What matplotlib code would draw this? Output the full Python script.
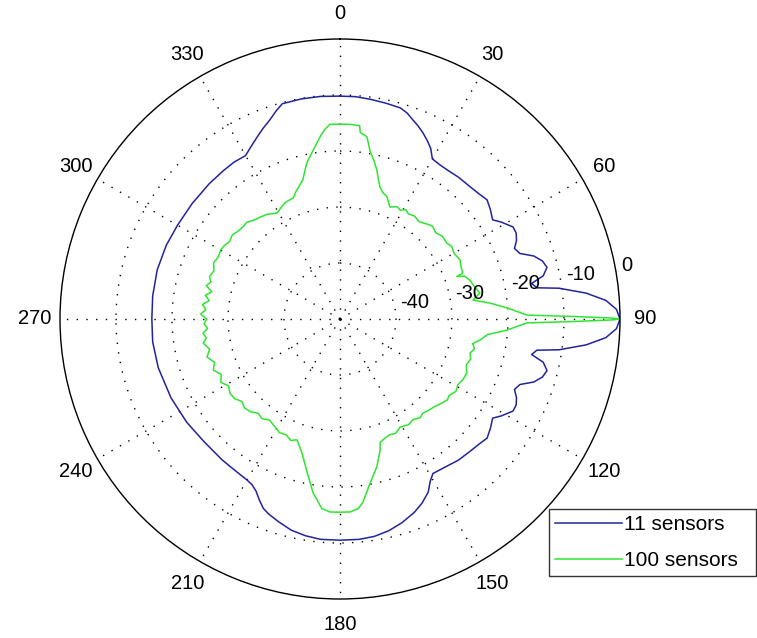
import numpy as np
import matplotlib
matplotlib.use("Agg")
import matplotlib.pyplot as plt
import matplotlib.transforms as mtransforms

plt.rcParams['font.family'] = ['Liberation Sans', 'DejaVu Sans']

# ---- data (angle in degrees, clockwise from top; level in dB) ----
blue_deg = [0, 4, 8, 12, 16, 18, 20, 22, 24, 26, 28, 30, 33, 36, 40, 44, 48, 51, 54, 57, 59, 62, 64, 66, 68, 70,
            72, 74, 76, 78, 79.5, 81, 82, 84, 86, 88, 90,
            92, 94, 96, 98, 99, 100.5, 102, 104, 106, 108, 110, 112, 114, 116, 118, 121, 123, 126, 129, 132, 136,
            140, 145, 149, 151, 153, 156, 159, 163, 167, 171, 175, 180,
            185, 189, 193, 197, 200, 202, 204, 206, 208, 210, 215, 220, 228, 236, 245, 255, 263, 270, 277, 285,
            293, 300, 308, 316, 322, 326, 330, 332, 335.5, 338, 340.6, 343, 345, 350, 355, 360]
blue_db = [-10.2, -10.2, -10.4, -10.6, -10.8, -11.3, -12.1, -12.8, -13.6, -14.5, -15.5, -17.0, -17.2, -17.2, -17.0,
           -16.9, -16.6, -16.2, -16.8, -17.5, -16.4, -15.0, -15.0, -15.5, -16.4, -15.8,
           -13.6, -12.4, -11.9, -12.9, -15.2, -14.4, -10.5, -5.8, -2.4, -0.6, 0.0,
           -0.6, -2.4, -5.8, -10.5, -14.4, -15.2, -12.9, -11.9, -12.4, -13.6, -15.8, -16.4, -15.5, -15.0, -15.0,
           -16.4, -17.5, -16.8, -16.2, -16.6, -16.9,
           -17.1, -17.6, -17.8, -16.8, -15.3, -14.0, -13.0, -12.0, -11.2, -10.7, -10.5, -10.5,
           -10.5, -10.8, -11.3, -12.2, -12.9, -13.5, -14.6, -15.8, -16.5, -16.8, -17.1, -17.2, -17.3, -17.0,
           -16.7, -16.4, -16.3, -16.4, -16.3, -16.2,
           -16.3, -16.5, -16.5, -16.4, -16.3, -16.2, -16.3, -15.6, -14.3, -13.3, -12.3, -11.1, -10.2, -10.1,
           -10.1, -10.2]

green_deg = [0, 3, 5.8, 6.2, 8.4, 10.2, 12, 13.9, 15, 16.9, 18.8, 21, 24, 27, 29, 31, 33, 36, 39, 41, 43, 45, 48,
             51, 54.6, 57, 60, 63.8, 66, 69.5, 70, 71, 73.3, 76, 79.5, 81.9, 84, 86.2, 88, 88.8, 89.4, 89.8, 90,
             90.2, 90.6, 91.2, 92, 93.8, 96, 98.5, 100.5, 102.5, 104.7, 107, 110, 113, 116, 119, 122, 125, 127,
             130, 133, 136, 138.6, 141, 144, 147, 151, 154, 157, 160.4, 162, 163, 166, 169.6, 172.9, 174.5, 177,
             180, 183, 185.5, 188.8, 192, 195.8, 198, 199.6, 202, 205, 208, 211, 215, 218, 221, 224, 227, 230,
             233, 236, 239, 242, 245, 248, 251, 254, 257, 260, 262, 264, 266, 268, 270, 272, 274, 276, 278, 280,
             282, 284, 286, 288, 291, 294, 297, 300, 302, 305, 308, 311, 314, 316, 319, 322, 325, 327, 329.3,
             332, 335, 339, 341, 345, 348, 351.6, 354.2, 355.5, 357, 360]
green_db = [-15.2, -15.2, -15.3, -16.5, -17.1, -19.6, -21.0, -22.6, -23.8, -25.4, -26.2, -26.6, -28.1, -27.5,
            -27.8, -27.2, -27.6, -27.3, -27.6, -27.3, -26.9, -26.6, -27.0,
            -26.5, -26.6, -26.2, -26.5, -26.1, -26.4, -26.6, -27.8, -26.5, -25.8, -25.4, -24.6, -26.0, -23.0,
            -20.1, -17.8, -16.6, -8.0, -1.5, 0.0,
            -1.5, -8.0, -16.6, -17.8, -20.1, -23.5, -24.7, -25.9, -25.4, -26.0, -25.6, -26.0, -25.4, -25.5,
            -25.9, -25.6, -26.2, -26.0,
            -26.5, -27.0, -27.3, -27.6, -27.3, -27.8, -27.5, -27.9, -27.3, -27.5, -27.1, -26.8, -25.5, -22.8,
            -20.2, -17.0, -16.0, -15.5,
            -15.5, -15.5, -16.0, -18.6, -21.9, -25.1, -26.3, -27.1, -26.6, -27.2, -27.0, -27.5, -28.0, -27.4,
            -27.7, -27.0, -26.7, -27.1,
            -26.4, -26.3, -26.8, -25.9, -26.6, -25.6, -26.3, -25.3, -26.1, -25.2, -25.9, -25.4, -26.3, -25.7,
            -26.2, -25.1, -26.0, -25.3, -26.4, -25.6,
            -26.6, -25.4, -26.0, -25.5, -25.9, -25.3, -25.6, -25.4, -25.5, -25.9, -25.6, -26.0, -26.1, -26.0,
            -26.6, -26.9, -27.2, -27.6, -28.0,
            -27.5, -27.0, -26.8, -25.9, -24.3, -21.5, -19.0, -16.9, -16.0, -15.2, -15.2]

series_labels = ['11 sensors', '100 sensors']
ring_values = [-40, -30, -20, -10, 0]
ring_labels = ['-40', '-30', '-20', '-10', '0']
angle_ticks = [0, 30, 60, 90, 120, 150, 180, 210, 240, 270, 300, 330]
angle_labels = ['0', '30', '60', '90', '120', '150', '180', '210', '240', '270', '300', '330']

# ---- figure ----
W, H = 757, 638
fig = plt.figure(figsize=(W / 100, H / 100), dpi=100)
fig.patch.set_facecolor('white')
ax = fig.add_axes([60 / W, (H - 599) / H, 560 / W, 560 / H], projection='polar')
ax.set_theta_zero_location('N')
ax.set_theta_direction(-1)
ax.set_rlim(-50, 0)

blue_c = '#23239c'
green_c = '#2fe52f'
l1, = ax.plot(np.deg2rad(blue_deg), blue_db, color=blue_c, lw=1.1, label=series_labels[0])
l2, = ax.plot(np.deg2rad(green_deg), green_db, color=green_c, lw=1.1, label=series_labels[1])

# grid
ax.set_xticks(np.deg2rad(angle_ticks))
ax.set_xticklabels([])
ax.set_yticks(ring_values[:-1])
ax.set_yticklabels([])
ax.grid(True, color='black', linestyle=(0, (1, 6)), linewidth=1.0)
ax.spines['polar'].set_color('black')
ax.spines['polar'].set_linewidth(1.0)
ax.tick_params(length=0)

# angle labels at ~1.09 * rmax
for a, lab in zip(angle_ticks, angle_labels):
    ax.text(np.deg2rad(a), 4.5, lab, ha='center', va='center', fontsize=14.5, clip_on=False)

# ring labels
off = mtransforms.offset_copy(ax.transData, fig=fig, x=5, y=-2, units='dots')
for v, lab in zip(ring_values, ring_labels):
    ax.text(np.deg2rad(80.5), v, lab, ha='left', va='bottom', fontsize=14.5, transform=off, clip_on=False)

leg = fig.legend(handles=[l1, l2], loc='upper left',
                 bbox_to_anchor=(549 / W, (H - 578) / H, 207 / W, 69 / H), bbox_transform=fig.transFigure,
                 mode='expand',
                 fontsize=15, frameon=True, fancybox=False, edgecolor='black',
                 handlelength=3.2, handletextpad=0.1, borderpad=0.3, labelspacing=0.8,
                 borderaxespad=0)
leg.get_frame().set_linewidth(1.0)

fig.savefig('out.png', dpi=100, facecolor='white')
